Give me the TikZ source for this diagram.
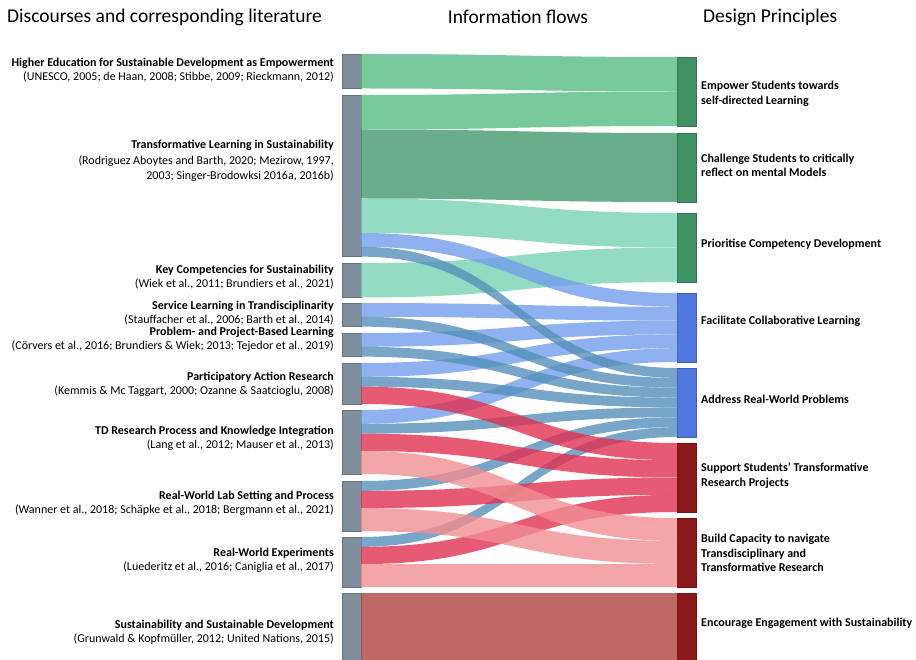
\documentclass[tikz,border=0pt]{standalone}
\usepackage{fontspec}
\setmainfont{Carlito}
\usetikzlibrary{calc}

\definecolor{bargray}{RGB}{128,143,158}
\definecolor{dpgreen}{RGB}{64,145,99}
\definecolor{dpblue}{RGB}{80,120,222}
\definecolor{dpred}{RGB}{139,24,26}
\definecolor{fempower}{RGB}{86,188,131}
\definecolor{fchallenge}{RGB}{69,153,109}
\definecolor{fprioritise}{RGB}{120,210,179}
\definecolor{ffacilitate}{RGB}{115,158,236}
\definecolor{faddress}{RGB}{86,144,186}
\definecolor{fsupport}{RGB}{224,49,81}
\definecolor{fbuild}{RGB}{241,142,146}
\definecolor{fencourage}{RGB}{174,67,64}

% colour, source, offset, target, offset, width
\newcommand{\sankeyflow}[6]{%
  \path ($(#2.north east)+(0,#3)$) coordinate (s1) ($(#2.north east)+(0,#3+#6)$) coordinate (s2)
        ($(#4.north west)+(0,#5)$) coordinate (t1) ($(#4.north west)+(0,#5+#6)$) coordinate (t2);
  \fill[#1,opacity=0.8] (s1) .. controls (mid |- s1) and (mid |- t1) .. (t1) -- (t2)
        .. controls (mid |- t2) and (mid |- s2) .. (s2) -- cycle;
}

\begin{document}
\begin{tikzpicture}[x=1pt,y=-1pt]
\tikzstyle{lbar}=[rectangle,fill=bargray,draw=bargray!80!black,line width=0.4pt,inner sep=0,outer sep=0,minimum width=19pt,anchor=north west]
\tikzstyle{rbar}=[rectangle,line width=0.4pt,inner sep=0,outer sep=0,minimum width=19pt,minimum height=69pt,anchor=north west]
\tikzstyle{llabel}=[anchor=east,align=right,inner sep=0,font=\fontsize{12}{14}\selectfont]
\tikzstyle{rlabel}=[anchor=west,align=left,inner sep=0,font=\bfseries\fontsize{12}{14.5}\selectfont]
\tikzstyle{header}=[inner sep=0,font=\fontsize{19.5}{22}\selectfont]
\clip (0,0) rectangle (916,660);
\coordinate (mid) at (519,0);

\node[header,anchor=west] (hleft) at (7,17) {Discourses and corresponding literature};
\node[header] (hmid) at (518,17) {Information flows};
\node[header,anchor=west] (hright) at (703,17) {Design Principles};

\node[lbar,minimum height=34.5pt] (hesd) at (342,54) {};
\node[lbar,minimum height=161.657pt] (trans) at (342,95) {};
\node[lbar,minimum height=34.5pt] (keyc) at (342,263) {};
\node[lbar,minimum height=23.657pt] (serv) at (342,303) {};
\node[lbar,minimum height=23.657pt] (pbl) at (342,333) {};
\node[lbar,minimum height=40.907pt] (par) at (342,363) {};
\node[lbar,minimum height=63.907pt] (tdr) at (342,410) {};
\node[lbar,minimum height=50.107pt] (rwl) at (342,481) {};
\node[lbar,minimum height=50.107pt] (rwe) at (342,537) {};
\node[lbar,minimum height=69pt] (sust) at (342,593) {};

\node[rbar,fill=dpgreen,draw=dpgreen!80!black] (emp) at (677,57) {};
\node[rbar,fill=dpgreen,draw=dpgreen!80!black] (chal) at (677,133) {};
\node[rbar,fill=dpgreen,draw=dpgreen!80!black] (prio) at (677,213) {};
\node[rbar,fill=dpblue,draw=dpblue!80!black] (facl) at (677,293) {};
\node[rbar,fill=dpblue,draw=dpblue!80!black] (addr) at (677,368) {};
\node[rbar,fill=dpred,draw=dpred!80!black] (supp) at (677,443) {};
\node[rbar,fill=dpred,draw=dpred!80!black] (build) at (677,518) {};
\node[rbar,fill=dpred,draw=dpred!80!black] (enc) at (677,593) {};

\sankeyflow{fempower}{hesd}{0}{emp}{0}{34.5}
\sankeyflow{fempower}{trans}{0}{emp}{34.5}{34.5}
\sankeyflow{fchallenge}{trans}{34.5}{chal}{0}{69}
\sankeyflow{fprioritise}{trans}{103.5}{prio}{0}{34.5}
\sankeyflow{fprioritise}{keyc}{0}{prio}{34.5}{34.5}
\sankeyflow{ffacilitate}{trans}{138}{facl}{0}{13.8}
\sankeyflow{ffacilitate}{serv}{0}{facl}{13.8}{13.8}
\sankeyflow{ffacilitate}{pbl}{0}{facl}{27.6}{13.8}
\sankeyflow{ffacilitate}{par}{0}{facl}{41.4}{13.8}
\sankeyflow{ffacilitate}{tdr}{0}{facl}{55.2}{13.8}
\sankeyflow{faddress}{trans}{151.8}{addr}{0}{9.857}
\sankeyflow{faddress}{serv}{13.8}{addr}{9.857}{9.857}
\sankeyflow{faddress}{pbl}{13.8}{addr}{19.714}{9.857}
\sankeyflow{faddress}{par}{13.8}{addr}{29.571}{9.857}
\sankeyflow{faddress}{tdr}{13.8}{addr}{39.428}{9.857}
\sankeyflow{faddress}{rwl}{0}{addr}{49.285}{9.857}
\sankeyflow{faddress}{rwe}{0}{addr}{59.142}{9.857}
\sankeyflow{fsupport}{par}{23.657}{supp}{0}{17.25}
\sankeyflow{fsupport}{tdr}{23.657}{supp}{17.25}{17.25}
\sankeyflow{fsupport}{rwl}{9.857}{supp}{34.5}{17.25}
\sankeyflow{fsupport}{rwe}{9.857}{supp}{51.75}{17.25}
\sankeyflow{fbuild}{tdr}{40.907}{build}{0}{23}
\sankeyflow{fbuild}{rwl}{27.107}{build}{23}{23}
\sankeyflow{fbuild}{rwe}{27.107}{build}{46}{23}
\sankeyflow{fencourage}{sust}{0}{enc}{0}{69}

\node[llabel] (hesdtxt) at (334,70) {\textbf{Higher Education for Sustainable Development as Empowerment}\\(UNESCO, 2005; de Haan, 2008; Stibbe, 2009; Rieckmann, 2012)};
\node[llabel,font=\fontsize{12}{15.5}\selectfont] (transtxt) at (334,161) {\textbf{Transformative Learning in Sustainability}\\(Rodriguez Aboytes and Barth, 2020; Mezirow, 1997,\\2003; Singer-Brodowksi 2016a, 2016b)};
\node[llabel] (keyctxt) at (334,277) {\textbf{Key Competencies for Sustainability}\\(Wiek et al., 2011; Brundiers et al., 2021)};
\node[llabel] (servtxt) at (334,313) {\textbf{Service Learning in Trandisciplinarity}\\(Stauffacher et al., 2006; Barth et al., 2014)};
\node[llabel] (pbltxt) at (334,339) {\textbf{Problem- and Project-Based Learning}\\(Cörvers et al., 2016; Brundiers \& Wiek; 2013; Tejedor et al., 2019)};
\node[llabel] (partxt) at (334,384) {\textbf{Participatory Action Research}\\(Kemmis \& Mc Taggart, 2000; Ozanne \& Saatcioglu, 2008)};
\node[llabel] (tdrtxt) at (334,438) {\textbf{TD Research Process and Knowledge Integration}\\(Lang et al., 2012; Mauser et al., 2013)};
\node[llabel] (rwltxt) at (334,503) {\textbf{Real-World Lab Setting and Process}\\(Wanner et al., 2018; Schäpke et al., 2018; Bergmann et al., 2021)};
\node[llabel] (rwetxt) at (334,560) {\textbf{Real-World Experiments}\\(Luederitz et al., 2016; Caniglia et al., 2017)};
\node[llabel] (susttxt) at (334,632) {\textbf{Sustainability and Sustainable Development}\\(Grunwald \& Kopfmüller, 2012; United Nations, 2015)};

\node[rlabel] (emptxt) at (701,94) {Empower Students towards\\self-directed Learning};
\node[rlabel] (chaltxt) at (701,165.5) {Challenge Students to critically\\reflect on mental Models};
\node[rlabel] (priotxt) at (701,244) {Prioritise Competency Development};
\node[rlabel] (facltxt) at (701,321) {Facilitate Collaborative Learning};
\node[rlabel] (addrtxt) at (701,399) {Address Real-World Problems};
\node[rlabel] (supptxt) at (701,475.5) {Support Students’ Transformative\\Research Projects};
\node[rlabel] (buildtxt) at (701,553) {Build Capacity to navigate\\Transdisciplinary and\\Transformative Research};
\node[rlabel] (enctxt) at (701,623) {Encourage Engagement with Sustainability};
\end{tikzpicture}
\end{document}
